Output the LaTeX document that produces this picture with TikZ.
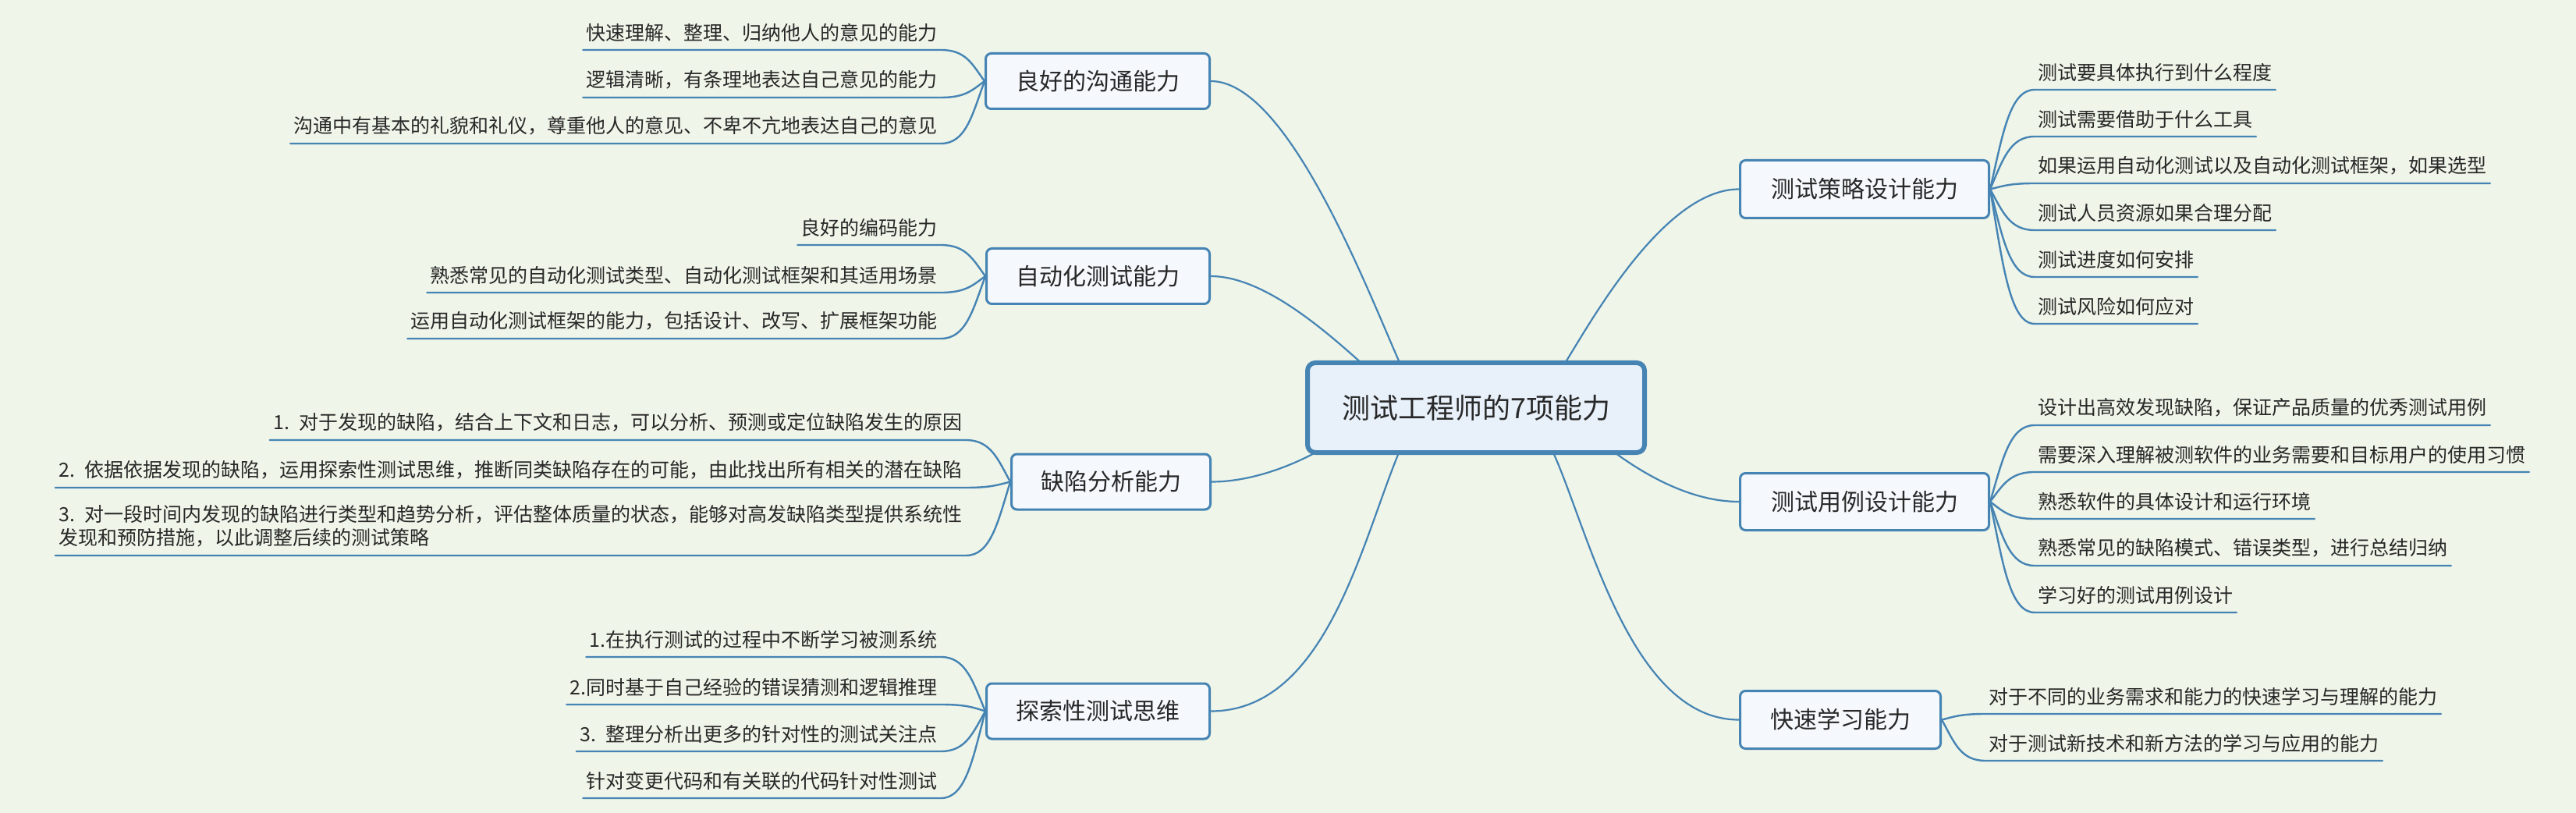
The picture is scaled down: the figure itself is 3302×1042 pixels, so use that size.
\documentclass[tikz,border=0pt]{standalone}
\usepackage{fontspec}
\setmainfont{Noto Sans CJK SC}
\usetikzlibrary{backgrounds,calc}
\definecolor{bgc}{RGB}{239,245,233}
\definecolor{lnc}{RGB}{70,132,180}
\definecolor{mainfill}{RGB}{245,248,252}
\definecolor{cfill}{RGB}{232,241,250}
\definecolor{txtc}{RGB}{40,40,40}
\begin{document}
\begin{tikzpicture}[x=0.5pt,y=-0.5pt,
  cbox/.style={draw=lnc, line width=3pt, fill=cfill, rounded corners=5pt, minimum width=216pt, minimum height=57.5pt, inner sep=0pt, font=\fontsize{18pt}{21pt}\selectfont, text=txtc},
  tbox/.style={draw=lnc, line width=1.5pt, fill=mainfill, rounded corners=3.5pt, inner sep=0pt, minimum height=35.5pt, font=\fontsize{15pt}{18pt}\selectfont, text=txtc},
  leafnode/.style={inner xsep=2pt, inner ysep=5pt, font=\fontsize{12.5pt}{15pt}\selectfont, text=txtc},
  mainline/.style={draw=lnc, line width=1.1pt},
  twigline/.style={draw=lnc, line width=1.2pt, line cap=round, line join=round},
]
\useasboundingbox (0,0) rectangle (3302,1042);

% central and topics
\node[cbox] (c) at (1892,522.5) {测试工程师的7项能力};
\node[tbox, minimum width=143.5pt] (t1) at (1407,104) {良好的沟通能力};
\node[tbox, minimum width=143pt] (t2) at (1407.5,354) {自动化测试能力};
\node[tbox, minimum width=127.5pt] (t3) at (1424,617.5) {缺陷分析能力};
\node[tbox, minimum width=143pt] (t4) at (1407.5,911.5) {探索性测试思维};
\node[tbox, minimum width=159.5pt, minimum height=37pt] (t5) at (2390,242.5) {测试策略设计能力};
\node[tbox, minimum width=159.5pt, minimum height=36.5pt] (t6) at (2390,643) {测试用例设计能力};
\node[tbox, minimum width=128.5pt, minimum height=37pt] (t7) at (2359,922.5) {快速学习能力};

% group 1
\node[leafnode, anchor=south east] (l11) at (1206,64) {快速理解、整理、归纳他人的意见的能力};
\node[leafnode, anchor=south east] (l12) at (1206,125) {逻辑清晰，有条理地表达自己意见的能力};
\node[leafnode, anchor=south east] (l13) at (1206,184) {沟通中有基本的礼貌和礼仪，尊重他人的意见、不卑不亢地表达自己的意见};
% group 2
\node[leafnode, anchor=south east] (l21) at (1206,314) {良好的编码能力};
\node[leafnode, anchor=south east] (l22) at (1206,375) {熟悉常见的自动化测试类型、自动化测试框架和其适用场景};
\node[leafnode, anchor=south east] (l23) at (1206,434) {运用自动化测试框架的能力，包括设计、改写、扩展框架功能};
% group 3
\node[leafnode, anchor=south east] (l31) at (1238,564) {1.\enspace 对于发现的缺陷，结合上下文和日志，可以分析、预测或定位缺陷发生的原因};
\node[leafnode, anchor=south east] (l32) at (1238,625) {2.\enspace 依据依据发现的缺陷，运用探索性测试思维，推断同类缺陷存在的可能，由此找出所有相关的潜在缺陷};
\node[leafnode, anchor=south east, align=left] (l33) at (1238,712) {3.\enspace 对一段时间内发现的缺陷进行类型和趋势分析，评估整体质量的状态，能够对高发缺陷类型提供系统性\\发现和预防措施，以此调整后续的测试策略};
% group 4
\node[leafnode, anchor=south east] (l41) at (1206,842) {1.在执行测试的过程中不断学习被测系统};
\node[leafnode, anchor=south east] (l42) at (1206,903) {2.同时基于自己经验的错误猜测和逻辑推理};
\node[leafnode, anchor=south east] (l43) at (1206,963) {3.\enspace 整理分析出更多的针对性的测试关注点};
\node[leafnode, anchor=south east] (l44) at (1206,1023) {针对变更代码和有关联的代码针对性测试};
% group 5
\node[leafnode, anchor=south west] (l51) at (2608,115) {测试要具体执行到什么程度};
\node[leafnode, anchor=south west] (l52) at (2608,175) {测试需要借助于什么工具};
\node[leafnode, anchor=south west] (l53) at (2608,235) {如果运用自动化测试以及自动化测试框架，如果选型};
\node[leafnode, anchor=south west] (l54) at (2608,295) {测试人员资源如果合理分配};
\node[leafnode, anchor=south west] (l55) at (2608,355) {测试进度如何安排};
\node[leafnode, anchor=south west] (l56) at (2608,415) {测试风险如何应对};
% group 6
\node[leafnode, anchor=south west] (l61) at (2608,545) {设计出高效发现缺陷，保证产品质量的优秀测试用例};
\node[leafnode, anchor=south west] (l62) at (2608,605) {需要深入理解被测软件的业务需要和目标用户的使用习惯};
\node[leafnode, anchor=south west] (l63) at (2608,665) {熟悉软件的具体设计和运行环境};
\node[leafnode, anchor=south west] (l64) at (2608,725) {熟悉常见的缺陷模式、错误类型，进行总结归纳};
\node[leafnode, anchor=south west] (l65) at (2608,785) {学习好的测试用例设计};
% group 7
\node[leafnode, anchor=south west] (l71) at (2545,915) {对于不同的业务需求和能力的快速学习与理解的能力};
\node[leafnode, anchor=south west] (l72) at (2545,975) {对于测试新技术和新方法的学习与应用的能力};

\begin{scope}[on background layer]
\fill[bgc] (0,0) rectangle (3302,1042);
% main connectors
\draw[mainline] ($(c.north)+(-97,5)$) .. controls +(-45,-102) and +(98,0) .. (t1.east);
\draw[mainline] ($(c.north)+(-145,5)$) .. controls +(-47,-42) and +(68,0) .. (t2.east);
\draw[mainline] ($(c.south)+(-202,-5)$) .. controls +(-40,22) and +(47,0) .. (t3.east);
\draw[mainline] ($(c.south)+(-98,-5)$) .. controls +(-49,117) and +(148,0) .. (t4.east);
\draw[mainline] ($(c.north)+(113,5)$) .. controls +(30,-47) and +(-98,0) .. (t5.west);
\draw[mainline] ($(c.south)+(175,-5)$) .. controls +(43,32) and +(-60,0) .. (t6.west);
\draw[mainline] ($(c.south)+(98,-5)$) .. controls +(45,97) and +(-140,0) .. (t7.west);
% group 1 twigs
\draw[twigline] (l11.south west) -- (l11.south east) .. controls +(32,0) and +(-16,-22) .. (t1.west);
\draw[twigline] (l12.south west) -- (l12.south east) .. controls +(32,0) and +(-16,11.5) .. (t1.west);
\draw[twigline] (l13.south west) -- (l13.south east) .. controls +(32,0) and +(-16,44) .. (t1.west);
% group 2
\draw[twigline] (l21.south west) -- (l21.south east) .. controls +(32,0) and +(-16,-22) .. (t2.west);
\draw[twigline] (l22.south west) -- (l22.south east) .. controls +(32,0) and +(-16,11.5) .. (t2.west);
\draw[twigline] (l23.south west) -- (l23.south east) .. controls +(32,0) and +(-16,44) .. (t2.west);
% group 3
\draw[twigline] (l31.south west) -- (l31.south east) .. controls +(32,0) and +(-16,-29) .. (t3.west);
\draw[twigline] (l32.south west) -- (l32.south east) .. controls +(32,0) and +(-16,4) .. (t3.west);
\draw[twigline] (l33.south west) -- (l33.south east) .. controls +(32,0) and +(-16,52) .. (t3.west);
% group 4
\draw[twigline] (l41.south west) -- (l41.south east) .. controls +(32,0) and +(-16,-38) .. (t4.west);
\draw[twigline] (l42.south west) -- (l42.south east) .. controls +(32,0) and +(-16,-5) .. (t4.west);
\draw[twigline] (l43.south west) -- (l43.south east) .. controls +(32,0) and +(-16,28) .. (t4.west);
\draw[twigline] (l44.south west) -- (l44.south east) .. controls +(32,0) and +(-16,61) .. (t4.west);
% group 5
\draw[twigline] (l51.south east) -- (l51.south west) .. controls +(-32,0) and +(16,-70) .. (t5.east);
\draw[twigline] (l52.south east) -- (l52.south west) .. controls +(-32,0) and +(16,-37) .. (t5.east);
\draw[twigline] (l53.south east) -- (l53.south west) .. controls +(-32,0) and +(16,-4) .. (t5.east);
\draw[twigline] (l54.south east) -- (l54.south west) .. controls +(-32,0) and +(16,29) .. (t5.east);
\draw[twigline] (l55.south east) -- (l55.south west) .. controls +(-32,0) and +(16,62) .. (t5.east);
\draw[twigline] (l56.south east) -- (l56.south west) .. controls +(-32,0) and +(16,95) .. (t5.east);
% group 6
\draw[twigline] (l61.south east) -- (l61.south west) .. controls +(-32,0) and +(16,-54) .. (t6.east);
\draw[twigline] (l62.south east) -- (l62.south west) .. controls +(-32,0) and +(16,-21) .. (t6.east);
\draw[twigline] (l63.south east) -- (l63.south west) .. controls +(-32,0) and +(16,12) .. (t6.east);
\draw[twigline] (l64.south east) -- (l64.south west) .. controls +(-32,0) and +(16,45) .. (t6.east);
\draw[twigline] (l65.south east) -- (l65.south west) .. controls +(-32,0) and +(16,78) .. (t6.east);
% group 7
\draw[twigline] (l71.south east) -- (l71.south west) .. controls +(-32,0) and +(16,-4) .. (t7.east);
\draw[twigline] (l72.south east) -- (l72.south west) .. controls +(-32,0) and +(16,29) .. (t7.east);
\end{scope}
\end{tikzpicture}
\end{document}
